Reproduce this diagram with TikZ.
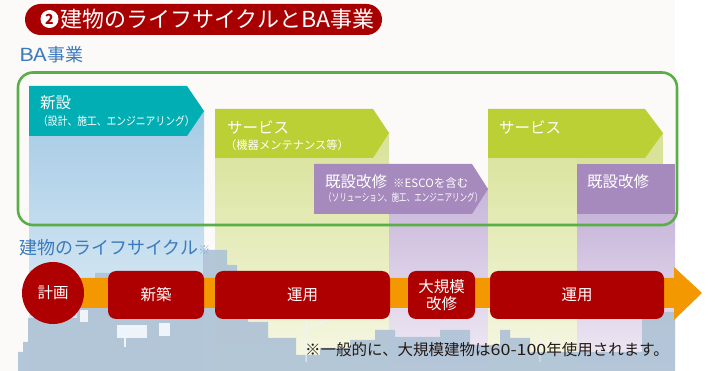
\documentclass[tikz,border=0pt]{standalone}
\usepackage{fontspec}
\setmainfont{Noto Sans CJK JP}
\definecolor{bgpaper}{HTML}{FBFAF8}
\definecolor{bannerred}{HTML}{A80000}
\definecolor{boxred}{HTML}{AE0000}
\definecolor{headteal}{HTML}{00AEB3}
\definecolor{headlime}{HTML}{BBD034}
\definecolor{headpurple}{HTML}{A689BD}
\definecolor{labelblue}{HTML}{3C7BBE}
\definecolor{framegreen}{HTML}{5AAE47}
\definecolor{barorange}{HTML}{F39800}
\definecolor{city}{HTML}{AFC3D6}
\definecolor{citylight}{HTML}{EEF4F9}
\definecolor{notetext}{HTML}{231815}
\definecolor{bluetop}{HTML}{A6CBE5}
\definecolor{bluebot}{HTML}{E6F1F8}
\definecolor{greentop}{HTML}{D8E298}
\definecolor{greenbot}{HTML}{F7F8E6}
\definecolor{purpletop}{HTML}{C8B6DA}
\definecolor{purplebot}{HTML}{F1ECF5}
\begin{document}
\begin{tikzpicture}[x=1pt,y=-1pt,
  headtext/.style={anchor=west,text=white,inner sep=0pt,font=\fontsize{15.5}{16}\selectfont},
  subtext/.style={anchor=west,text=white,inner sep=0pt,font=\fontsize{11.5}{12}\selectfont},
  redbox/.style={fill=boxred,rounded corners=8pt,text=white,inner sep=0pt,
    font=\fontsize{15.5}{19}\selectfont,align=center,minimum height=48pt},
  bluelabel/.style={anchor=west,text=labelblue,inner sep=0pt,font=\fontsize{18}{18}\selectfont},
  bluecolumn/.style={top color=bluetop,bottom color=bluebot},
  greencolumn/.style={top color=greentop,bottom color=greenbot},
  purplecolumn/.style={top color=purpletop,bottom color=purplebot}]
\useasboundingbox (0,0) rectangle (715,371);
\fill[bgpaper] (0,0) rectangle (675,371);
\fill[white] (675,0) rectangle (715,371);

% title banner
\fill[bannerred] (25,4) [rounded corners=15.5pt] rectangle (382,35);
\fill[white] (49.5,19) circle (9pt);
\node[text=bannerred,inner sep=0pt,font=\fontsize{14}{14}\selectfont\bfseries] (num) at (49.5,19.5) {2};
\node[anchor=west,text=white,inner sep=0pt,font=\fontsize{22}{22}\selectfont] (title) at (60,19.5) {建物のライフサイクルと\scalebox{1.05}[1]{BA}事業};

\node[bluelabel] (ba) at (19,55) {\scalebox{1.25}[1]{BA}事業};

% columns under the business phases
\fill[bluecolumn] (29,111) rectangle (204,371);
\fill[greencolumn] (215,133) rectangle (389,371);
\fill[purplecolumn] (389,189) rectangle (488,371);
\fill[greencolumn] (488,133) rectangle (577,371);
\fill[greentop] (577,133) rectangle (663,164);
\fill[purplecolumn] (577,214) rectangle (675,371);

% phase headers
\fill[headteal] (29,86) -- (187,86) -- (204,111) -- (187,136) -- (29,136) -- cycle;
\fill[headlime] (215,109) -- (373,109) -- (389,133) -- (373,158) -- (215,158) -- cycle;
\fill[headpurple] (314,164) -- (472,164) -- (488,189) -- (472,214) -- (314,214) -- cycle;
\fill[headlime] (488,109) -- (645,109) -- (663,133) -- (645,158) -- (488,158) -- cycle;
\fill[headpurple] (577,164) rectangle (675,214);

\node[headtext] (shinsetsu) at (40,103) {新設};
\node[subtext] (shinsetsusub) at (38,121) {\scalebox{0.85}[1]{（設計、施工、エンジニアリング）}};
\node[headtext] (service1) at (227,127) {サービス};
\node[subtext] (service1sub) at (225,145) {\scalebox{0.98}[1]{（機器メンテナンス等）}};
\node[headtext] (kaishu1) at (325,182) {既設改修};
\node[subtext] (esco) at (393,183) {※ESCOを含む};
\node[subtext,font=\fontsize{10.5}{11}\selectfont] (kaishu1sub) at (324,198) {\scalebox{0.72}[1]{（ソリューション、施工、エンジニアリング）}};
\node[headtext] (service2) at (499,127) {サービス};
\node[headtext] (kaishu2) at (587,182) {既設改修};

% frame around the BA business area
\draw[framegreen,line width=2.6pt,rounded corners=15pt] (18,72.5) rectangle (677,225);

% city silhouette
\fill[city,opacity=0.92] (18,371) -- (18,352) -- (23,352) -- (23,342) -- (28,342) -- (28,318)
  -- (77,318) -- (77,300) -- (95,300) -- (95,273) -- (110,273) -- (110,300) -- (203,300)
  -- (203,250) -- (227,250) -- (227,265) -- (237,265) -- (237,318) -- (248,318) -- (248,322)
  -- (268,322) -- (268,338) -- (296,338) -- (296,355) -- (320,355) -- (320,348) -- (350,348)
  -- (350,340) -- (375,340) -- (375,330) -- (395,330) -- (395,337) -- (440,337) -- (440,330)
  -- (470,330) -- (470,345) -- (500,345) -- (500,330) -- (510,330) -- (510,338) -- (530,338)
  -- (530,352) -- (642,352) -- (642,312) -- (675,312) -- (675,371) -- cycle;
\fill[citylight] (80,310) rectangle (88,322);
\fill[citylight] (117,325) rectangle (147,338);
\fill[citylight] (124,338) rectangle (126,347);
\fill[citylight] (159,323) rectangle (170,336);
\draw[citylight,line width=1pt] (306,362) -- (306,318) (300,332) -- (346,312) (306,318) -- (346,312);
\draw[citylight,line width=0.8pt] (540,362) -- (540,335) (532,345) -- (560,338);

\node[bluelabel] (lifecycle) at (19,248) {建物のライフサイクル\textcolor{labelblue!60}{\fontsize{12}{12}\selectfont ※}};

% life-cycle timeline
\fill[barorange] (40,278) -- (674,278) -- (674,267) -- (702,293) -- (674,320) -- (674,308) -- (40,308) -- cycle;
\node[circle,fill=boxred,minimum size=62pt,inner sep=0pt,text=white,font=\fontsize{15.5}{16}\selectfont] (keikaku) at (53,293) {計画};
\node[redbox,minimum width=96pt] (shinchiku) at (156,295) {新築};
\node[redbox,minimum width=175pt] (unyo1) at (302.5,295) {運用};
\node[redbox,minimum width=67pt] (daikibo) at (441.5,295) {大規模\\[-2pt]改修};
\node[redbox,minimum width=174pt] (unyo2) at (577,295) {運用};

\node[anchor=west,inner sep=0pt,text=notetext,font=\fontsize{15.5}{15}\selectfont] (note) at (305,350) {※一般的に、大規模建物は\scalebox{1.15}[1]{60-100}年使用されます。};
\end{tikzpicture}
\end{document}
